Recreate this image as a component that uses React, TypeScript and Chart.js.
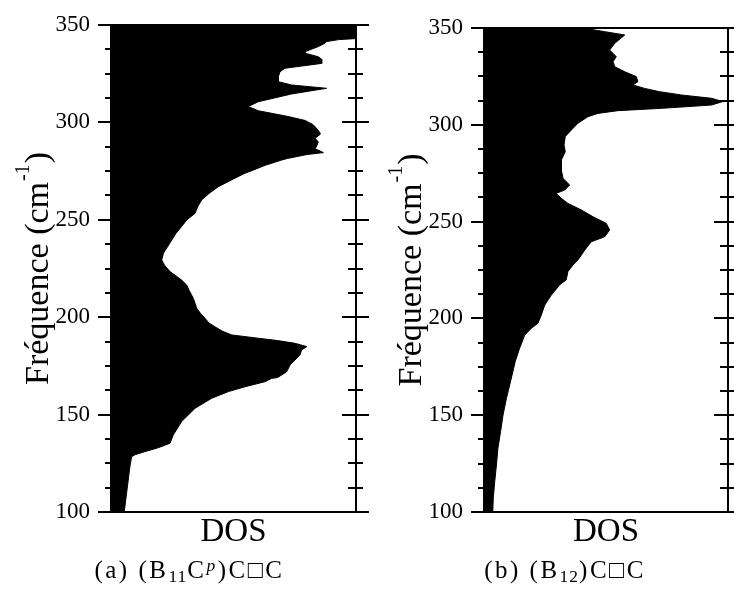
import React, { useEffect, useRef } from "react";
import { Chart, registerables } from "chart.js";

Chart.register(...registerables);

const FONT = "'Liberation Serif', 'Times New Roman', serif";

// Frequency axis (cm^-1)
const FREQ_TICKS = [100, 150, 200, 250, 300, 350];
const FREQ_MINOR_STEP = 12.5;

// Panel (a) (B11Cp)C□C : frequency (cm^-1) and DOS (arbitrary units, % of axis)
const freqA = [
  350, 343, 342.5, 341.5, 340.6, 338.9, 336.3, 335.5, 333.7, 332.4, 330.3, 327.8, 326,
  323.5, 320.9, 319.2, 317.5, 314.6, 310.6, 308.1, 306, 303, 301, 299.5, 298.7, 296,
  294, 292.5, 291.8, 290, 288, 286.5, 284.5, 283.5, 281.5, 280.7, 278, 275.5, 273.9,
  271, 267, 263.5, 260.2, 257, 253.3, 250, 246.5, 243, 239.6, 236, 232.8, 229.4,
  226.8, 223.4, 219.1, 216.5, 213.5, 211.4, 209.7, 204.6, 202, 199.4, 197, 195.1,
  192.8, 190.9, 189.2, 188, 186.6, 184.9, 183.2, 180.6, 178, 175.5, 172, 169, 168.6,
  166.9, 164.3, 161.8, 158.4, 153.2, 146.4, 139.5, 135.3, 133, 131, 129.5, 128.4,
  124.1, 100,
];
const dosA = [
  99.6, 99.6, 93, 88, 87.3, 84.6, 79.2, 79.2, 84.6, 86, 86, 71, 69,
  68.3, 68.3, 73.7, 88, 73.7, 60.1, 56, 60.1, 72.4, 79.2, 81.5, 82.6, 84.6,
  85.5, 84, 83.3, 84.6, 84, 83.3, 86.7, 80, 72, 69.7, 63, 58, 54.7,
  50, 43.8, 40, 37, 35.5, 34.3, 31, 28.8, 26.5, 24.8, 23, 21.4, 20.7,
  21.8, 24.1, 28.8, 30.9, 32, 32.9, 33.6, 35, 36.5, 38.4, 40, 42.4,
  45.5, 49.3, 60.1, 68, 75.1, 79.9, 77.8, 77.1, 75.1, 73.1, 71.7, 68, 65.6,
  62.9, 54.7, 47.9, 41.1, 34.3, 28.8, 25.4, 24.1, 19.3, 13.9, 10, 8.4,
  7.8, 5.4,
];

// Panel (b) (B12)C□C
const freqB = [
  350, 348.1, 346.4, 342.1, 338.6, 335.2, 332.6, 330, 327.4, 324.9, 322.3, 320.6,
  318.8, 317.1, 315.4, 313.7, 312, 310.2, 308.5, 307.3, 305.9, 304.2, 300.8, 297.3,
  293.9, 289.6, 286.1, 281.8, 276.7, 272.3, 268.9, 266.3, 264.6, 262, 259.4, 256,
  252.5, 249.1, 245.7, 242.2, 239.6, 235.3, 230.2, 227.6, 224.2, 219.9, 217.3,
  212.1, 206.9, 201.8, 197.5, 194.9, 191.4, 184.6, 177.7, 169.1, 158.7, 150.1,
  141.5, 132.9, 124.3, 115.7, 107.1, 100,
];
const dosB = [
  40.6, 49.5, 57.7, 53.6, 51.5, 54.2, 52.9, 53.6, 57.7, 62.4, 63.1, 61,
  65.8, 72, 80.9, 93.2, 97.9, 93.2, 72.7, 54.9, 46.7, 42.6, 38.5, 35.8,
  33.3, 32.8, 33.3, 31.7, 31.7, 32.4, 35.1, 33.1, 29.6, 31.7, 34.4, 39.9,
  44.7, 50.1, 51.5, 49.5, 44, 41.3, 38.5, 36.5, 34.4, 33.7, 31,
  27.6, 24.9, 23.5, 22.1, 19.4, 16.7, 14.6, 12.8, 11.2, 9.2, 7.8,
  6.8, 5.7, 5.1, 4.4, 3.8, 3.6,
];

const Y_TITLE_MAIN = "Fréquence (cm";
const Y_TITLE_SUP = "-1";
const Y_TITLE_END = ")";
const X_TITLE = "DOS";

const framePlugin = {
  id: "frameTicks",
  afterDatasetsDraw(chart: any) {
    const { ctx, chartArea, scales } = chart;
    const { left, right, top, bottom } = chartArea;
    const y = scales.y;
    ctx.save();
    ctx.strokeStyle = "#000";
    ctx.lineWidth = 2;
    ctx.strokeRect(left, top, right - left, bottom - top);
    const fmin = FREQ_TICKS[0];
    const fmax = FREQ_TICKS[FREQ_TICKS.length - 1];
    ctx.beginPath();
    for (let v = fmin; v <= fmax + 1e-9; v += FREQ_MINOR_STEP) {
      const py = Math.round(y.getPixelForValue(v));
      const major = FREQ_TICKS.includes(v);
      if (major) {
        ctx.moveTo(left - 13, py);
        ctx.lineTo(left, py);
        ctx.moveTo(right - 14, py);
        ctx.lineTo(right + 13, py);
      } else {
        ctx.moveTo(left - 6, py);
        ctx.lineTo(left, py);
        ctx.moveTo(right - 8, py);
        ctx.lineTo(right + 7, py);
      }
    }
    ctx.stroke();

    // Y axis title with superscript
    const cx = left - 63;
    const cy = (top + bottom) / 2;
    ctx.translate(cx, cy);
    ctx.rotate(-Math.PI / 2);
    ctx.fillStyle = "#000";
    ctx.textBaseline = "alphabetic";
    ctx.textAlign = "left";
    const mainFont = `34px ${FONT}`;
    const supFont = `20px ${FONT}`;
    ctx.font = mainFont;
    const w1 = ctx.measureText(Y_TITLE_MAIN).width;
    const w3 = ctx.measureText(Y_TITLE_END).width;
    ctx.font = supFont;
    const w2 = ctx.measureText(Y_TITLE_SUP).width + 2;
    const x0 = -(w1 + w2 + w3) / 2;
    ctx.font = mainFont;
    ctx.fillText(Y_TITLE_MAIN, x0, 0);
    ctx.font = supFont;
    ctx.fillText(Y_TITLE_SUP, x0 + w1 + 1, -19);
    ctx.font = mainFont;
    ctx.fillText(Y_TITLE_END, x0 + w1 + w2, 0);
    ctx.restore();
  },
};

type PanelProps = {
  freq: number[];
  dos: number[];
  left: number;
  width: number;
  padTop: number;
  padRight: number;
};

function DosPanel({ freq, dos, left, width, padTop, padRight }: PanelProps) {
  const ref = useRef<HTMLCanvasElement>(null);
  useEffect(() => {
    const chart = new Chart(ref.current as HTMLCanvasElement, {
      type: "line",
      data: {
        datasets: [
          {
            data: freq.map((f, i) => ({ x: dos[i], y: f })),
            borderColor: "#000",
            backgroundColor: "#000",
            borderWidth: 1,
            pointRadius: 0,
            tension: 0,
            fill: { value: 0 },
          } as any,
        ],
      },
      options: {
        indexAxis: "y",
        responsive: false,
        animation: false,
        devicePixelRatio: 1,
        layout: { padding: { top: padTop, right: padRight, left: 0, bottom: 0 } },
        plugins: {
          legend: { display: false },
          tooltip: { enabled: false },
        },
        scales: {
          x: {
            type: "linear",
            min: 0,
            max: 100,
            ticks: { display: false },
            grid: { display: false, drawTicks: false },
            border: { display: false },
            title: {
              display: true,
              text: X_TITLE,
              color: "#000",
              font: { family: FONT, size: 33, lineHeight: 1 },
              padding: { top: 0, bottom: 11 },
            },
            afterFit: (s: any) => {
              s.height = 48;
              s.paddingLeft = 0;
              s.paddingRight = 0;
            },
          },
          y: {
            type: "linear",
            min: FREQ_TICKS[0],
            max: FREQ_TICKS[FREQ_TICKS.length - 1],
            ticks: {
              stepSize: 50,
              color: "#000",
              font: { family: FONT, size: 23 },
              padding: 21,
            },
            grid: { display: false, drawTicks: false },
            border: { display: false },
            afterFit: (s: any) => {
              s.width = 111;
              s.paddingTop = 0;
              s.paddingBottom = 0;
            },
          },
        },
      } as any,
      plugins: [framePlugin],
    });
    return () => chart.destroy();
  }, []);
  return (
    <canvas
      ref={ref}
      width={width}
      height={560}
      style={{ position: "absolute", left, top: 0, width, height: 560 }}
    />
  );
}

const capStyle = (center: number): React.CSSProperties => ({
  position: "absolute",
  left: center - 150,
  width: 300,
  top: 557,
  textAlign: "center",
  fontFamily: FONT,
  fontSize: 25,
  lineHeight: "25px",
  whiteSpace: "nowrap",
  letterSpacing: 2.5,
  color: "#000",
});
const subStyle: React.CSSProperties = { fontSize: "0.7em", position: "relative", top: "0.22em", letterSpacing: 1 };
const supStyle: React.CSSProperties = { fontSize: "0.7em", position: "relative", top: "-0.42em", fontStyle: "italic" };

export default function App() {
  return (
    <div style={{ position: "absolute", left: 0, top: 0, width: 734, height: 589, background: "#fff", overflow: "hidden" }}>
      <DosPanel freq={freqA} dos={dosA} left={0} width={372} padTop={25} padRight={16} />
      <DosPanel freq={freqB} dos={dosB} left={373} width={361} padTop={28} padRight={6} />
      <div style={capStyle(189.5)}>
        (a)&nbsp;(B<span style={subStyle}>11</span>C<span style={supStyle}>p</span>)C□C
      </div>
      <div style={capStyle(565)}>
        (b)&nbsp;(B<span style={subStyle}>12</span>)C□C
      </div>
    </div>
  );
}
